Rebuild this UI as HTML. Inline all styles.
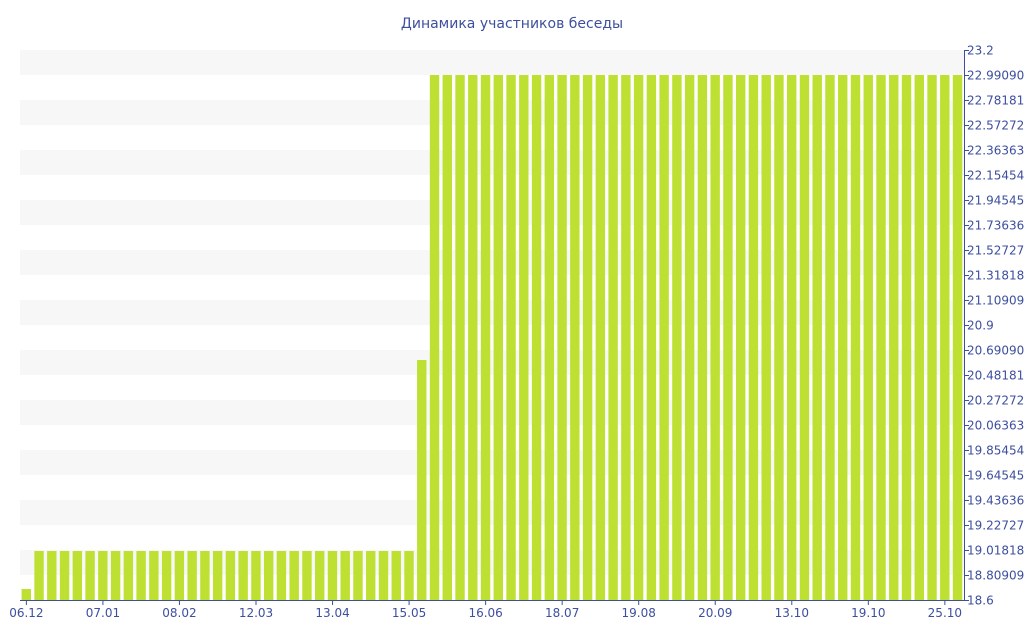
<!DOCTYPE html>
<html><head><meta charset="utf-8"><style>body{margin:0;background:#fff}svg{display:block}</style></head><body>
<svg width="1024" height="640" xmlns="http://www.w3.org/2000/svg" font-family="DejaVu Sans, Liberation Sans, sans-serif">
<text x="512" y="28" text-anchor="middle" font-size="14" fill="#3d4f9f">Динамика участников беседы</text>
<g id="bands" fill="#f7f7f7"></g>
<g id="bars" fill="#bde033"></g>
<line x1="20" y1="600.5" x2="964" y2="600.5" stroke="#3d4f9f"/>
<line x1="964.5" y1="50" x2="964.5" y2="600" stroke="#3d4f9f"/>
<g id="ticks" stroke="#3d4f9f"></g>
<g id="labels" font-size="12" fill="#3d4f9f"></g>
</svg>
<script>
const ns="http://www.w3.org/2000/svg";
function el(p,t,a,txt){const e=document.createElementNS(ns,t);for(const k in a)e.setAttribute(k,a[k]);if(txt!==undefined)e.textContent=txt;document.getElementById(p).appendChild(e);}
for(let i=0;i<22;i+=2)el("bands","rect",{x:20,y:50+i*25,width:944,height:25});
const cw=944/74;
for(let i=0;i<74;i++){let top=i==0?589:(i<=30?551:(i==31?360:75));el("bars","rect",{x:20+i*cw+1.6,y:top,width:9.4,height:600-top});}
const yl=["23.2","22.990909","22.781818","22.572727","22.363636","22.154545","21.945454","21.736363","21.527272","21.318181","21.109090","20.9","20.690909","20.481818","20.272727","20.063636","19.854545","19.645454","19.436363","19.227272","19.018181","18.809090","18.6"];
for(let i=0;i<23;i++){let y=50+i*25;el("ticks","line",{x1:964,y1:y+0.5,x2:969,y2:y+0.5});el("labels","text",{x:967,y:y+4.5},yl[i]);}
const xl=["06.12","07.01","08.02","12.03","13.04","15.05","16.06","18.07","19.08","20.09","13.10","19.10","25.10"];
for(let i=0;i<13;i++){let x=20+(i*6+0.5)*cw;el("ticks","line",{x1:x,y1:600,x2:x,y2:605});el("labels","text",{x:x,y:617,"text-anchor":"middle"},xl[i]);}
</script>
</body></html>
